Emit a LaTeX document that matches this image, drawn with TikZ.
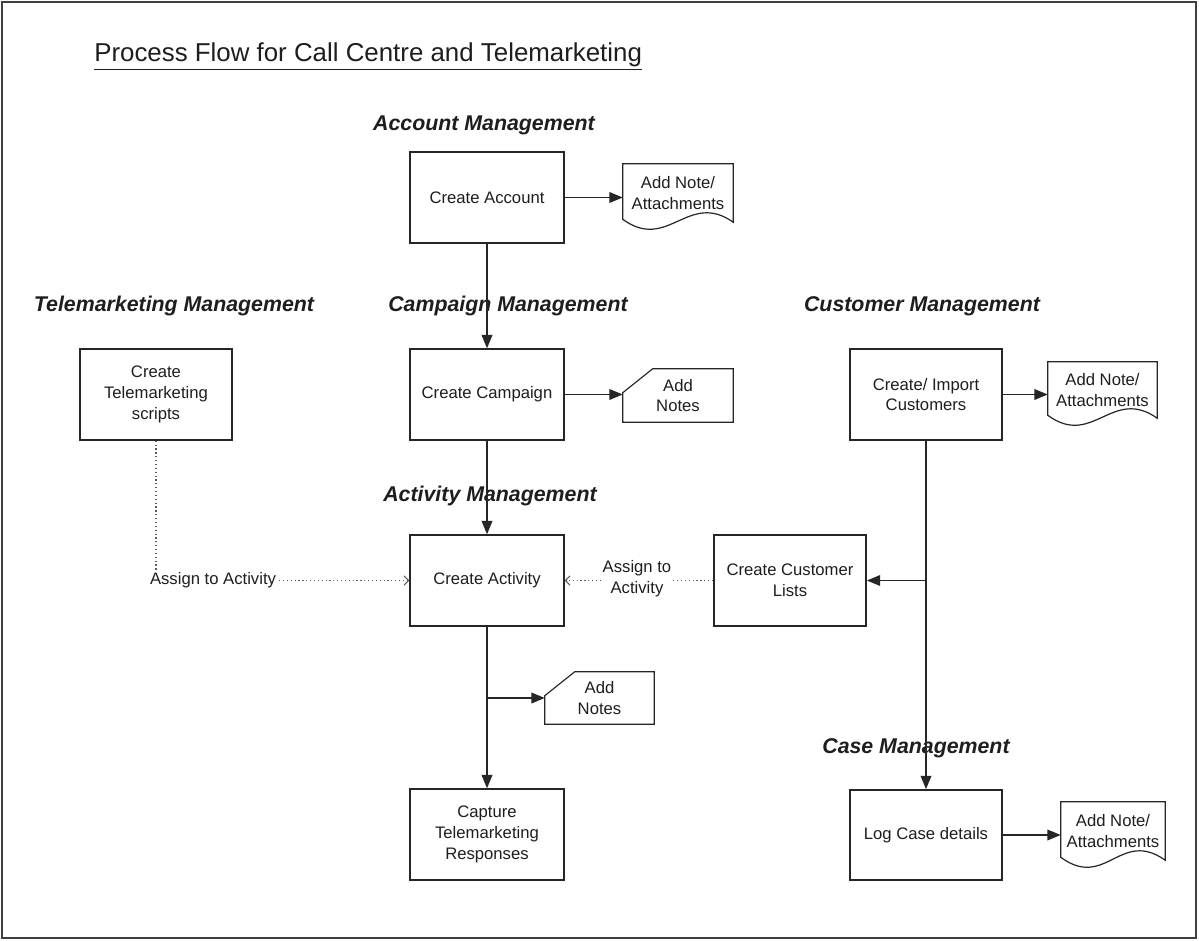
\documentclass[tikz,border=0pt]{standalone}
\usepackage{fontspec}
\setmainfont{Liberation Sans}
\usetikzlibrary{arrows.meta,calc}
\definecolor{ink}{HTML}{262626}
\definecolor{txt}{HTML}{1E1E1E}
\tikzset{
  procbox/.style={draw=ink, line width=1.3pt, fill=white, minimum width=115pt, minimum height=68pt, align=center, font=\fontsize{12.5}{15.5}\selectfont, text=txt},
  docbox/.style={draw=none, align=center, font=\fontsize{12.5}{15.5}\selectfont, text=txt, inner sep=0pt},
  shapeline/.style={draw=ink, line width=0.9pt},
  hdr/.style={font=\fontsize{16}{19}\selectfont\bfseries\itshape, text=txt},
  arr/.style={draw=ink, line width=1pt, -{Triangle[length=10pt,width=8pt]}},
  dots/.style={draw=ink!75, line width=0.9pt, dotted, -{Straight Barb[length=3.5pt,width=7pt]}},
  lbl/.style={fill=white, align=center, font=\fontsize{12.5}{15.5}\selectfont, text=txt, inner sep=1pt},
}
\newcommand\docdraw[1]{\draw[shapeline] (#1.north west) -- (#1.north east) -- (#1.south east) .. controls ($(#1.south east)+(-45,-32)$) and ($(#1.south west)+(45,30)$) .. ($(#1.south west)+(0,-3)$) -- cycle;}
\newcommand\carddraw[1]{\draw[shapeline] ($(#1.north west)+(30,0)$) -- (#1.north east) -- (#1.south east) -- (#1.south west) -- ($(#1.north west)+(0,24)$) -- cycle;}
\begin{document}
\begin{tikzpicture}[x=0.75pt,y=-0.75pt]
\useasboundingbox (0,0) rectangle (1199,941);
\fill[white] (0,0) rectangle (1199,941);
\draw[black!75, line width=1.1pt] (2,2) rectangle (1196,938);

% title
\node[anchor=base west, font=\fontsize{19.4}{22}\selectfont, text=txt, inner sep=0pt] (title) at (94,62) {\underline{Process Flow for Call Centre and Telemarketing}};

% headers
\node[hdr] (hacc) at (484,125) {Account Management};
\node[hdr] (htele) at (174,306) {Telemarketing Management};
\node[hdr] (hcamp) at (508,306) {Campaign Management};
\node[hdr] (hcust) at (922,306) {Customer Management};
\node[hdr] (hact) at (490,496) {Activity Management};
\node[hdr] (hcase) at (916,748) {Case Management};

% process boxes
\node[procbox] (acc) at (487,197.5) {Create Account};
\node[procbox] (camp) at (487,394.5) {Create Campaign};
\node[procbox, minimum width=114pt] (tele) at (156,394.5) {Create\\Telemarketing\\scripts};
\node[procbox, minimum width=114pt] (cust) at (926,394.5) {Create/ Import\\Customers};
\node[procbox] (act) at (487,580.5) {Create Activity};
\node[procbox, minimum width=114pt] (list) at (790,580.5) {Create Customer\\Lists};
\node[procbox] (capt) at (487,834.5) {Capture\\Telemarketing\\Responses};
\node[procbox, minimum width=114pt, minimum height=67.5pt] (case) at (926,835) {Log Case details};

% documents
\node[docbox, minimum width=82.5pt, minimum height=43.5pt] (doc1) at (678,193) {Add Note/\\Attachments};
\docdraw{doc1}
\node[docbox, minimum width=81.75pt, minimum height=42pt] (doc2) at (1102.5,390) {Add Note/\\Attachments};
\docdraw{doc2}
\node[docbox, minimum width=78pt, minimum height=43.5pt] (doc3) at (1113,831) {Add Note/\\Attachments};
\docdraw{doc3}

% cards
\node[docbox, minimum width=82.5pt, minimum height=39.75pt] (note1) at (678,395.5) {Add\\Notes};
\carddraw{note1}
\node[docbox, minimum width=81.75pt, minimum height=39pt] (note2) at (599.5,698) {Add\\Notes};
\carddraw{note2}

% solid connectors
\draw[arr] (acc.east) -- (acc.east -| doc1.west);
\draw[arr] (acc.south) -- (camp.north);
\draw[arr] (camp.east) -- (camp.east -| note1.west);
\draw[arr] (camp.south) -- (act.north);
\draw[arr] (act.south) -- (capt.north);
\coordinate (br1) at (act.south |- note2.west);
\draw[arr] (br1) -- (note2.west);
\draw[arr] (cust.east) -- (cust.east -| doc2.west);
\draw[arr] (cust.south) -- (case.north);
\coordinate (br2) at (cust.south |- list.east);
\draw[arr] (br2) -- (list.east);
\draw[arr] (case.east) -- (case.east -| doc3.west);

% dotted connectors
\draw[dots] (tele.south) |- (act.west);
\node[lbl] (lab1) at (213,580) {Assign to Activity};
\draw[dots] (list.west) -- (act.east);
\node[lbl] (lab2) at (637,579) {Assign to\\Activity};
\end{tikzpicture}
\end{document}
